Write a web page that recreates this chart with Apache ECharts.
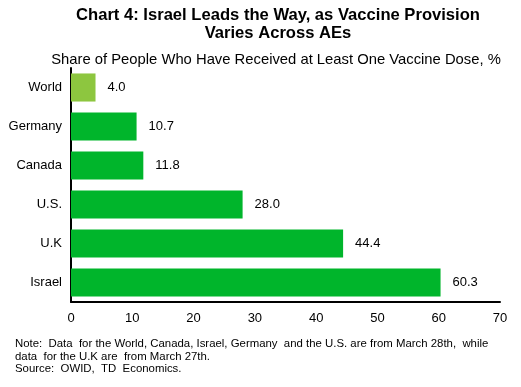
<!DOCTYPE html>
<html><head><meta charset="utf-8">
<script src="https://cdn.jsdelivr.net/npm/echarts@6/dist/echarts.min.js"></script>
<style>html,body{margin:0;padding:0;background:#fff}#c{width:521px;height:387px}</style>
</head><body><div id="c"></div>
<script>
const categories = ['World', 'Germany', 'Canada', 'U.S.', 'U.K', 'Israel'];
const values = [4.0, 10.7, 11.8, 28.0, 44.4, 60.3];
const xTicks = [0, 10, 20, 30, 40, 50, 60, 70];
const colors = ['#8DC63F', '#00B52B', '#00B52B', '#00B52B', '#00B52B', '#00B52B'];
const F = 'Liberation Sans, Arial, sans-serif';
const chart = echarts.init(document.getElementById('c'));
chart.setOption({
  animation: false,
  title: [
    {text: 'Chart 4: Israel Leads the Way, as Vaccine Provision\nVaries Across AEs', left: 278, top: 6, textAlign: 'center', padding: 0,
     textStyle: {fontFamily: F, fontSize: 16.6, fontWeight: 'bold', color: '#000', lineHeight: 18}},
    {text: 'Share of People Who Have Received at Least One Vaccine Dose, %', left: 276, top: 51, textAlign: 'center', padding: 0,
     textStyle: {fontFamily: F, fontSize: 14.8, fontWeight: 'normal', color: '#000', lineHeight: 17}},
    {text: 'Note:  Data  for the World, Canada, Israel, Germany  and the U.S. are from March 28th,  while\ndata  for the U.K are  from March 27th.\nSource:  OWID,  TD  Economics.', left: 15, top: 338, padding: 0,
     textStyle: {fontFamily: F, fontSize: 11.4, fontWeight: 'normal', color: '#000', lineHeight: 12.5}}
  ],
  grid: {left: 71, right: 21, top: 68, bottom: 85},
  xAxis: {type: 'value', min: 0, max: 70, interval: 10,
    axisLine: {show: true, lineStyle: {color: '#000', width: 2}},
    axisTick: {show: false}, splitLine: {show: false},
    axisLabel: {fontFamily: F, fontSize: 13, color: '#000', margin: 10,
      formatter: v => xTicks.includes(v) ? String(v) : ''}},
  yAxis: {type: 'category', data: categories, inverse: true,
    axisLine: {show: true, lineStyle: {color: '#000', width: 2}},
    axisTick: {show: false},
    axisLabel: {fontFamily: F, fontSize: 13, color: '#000', margin: 9}},
  series: [{type: 'bar', barCategoryGap: '28%',
    data: values.map((v, i) => ({value: v, itemStyle: {color: colors[i]}})),
    label: {show: true, position: 'right', distance: 12, fontFamily: F, fontSize: 13, color: '#000',
      formatter: p => p.value.toFixed(1)}}]
});
</script></body></html>
